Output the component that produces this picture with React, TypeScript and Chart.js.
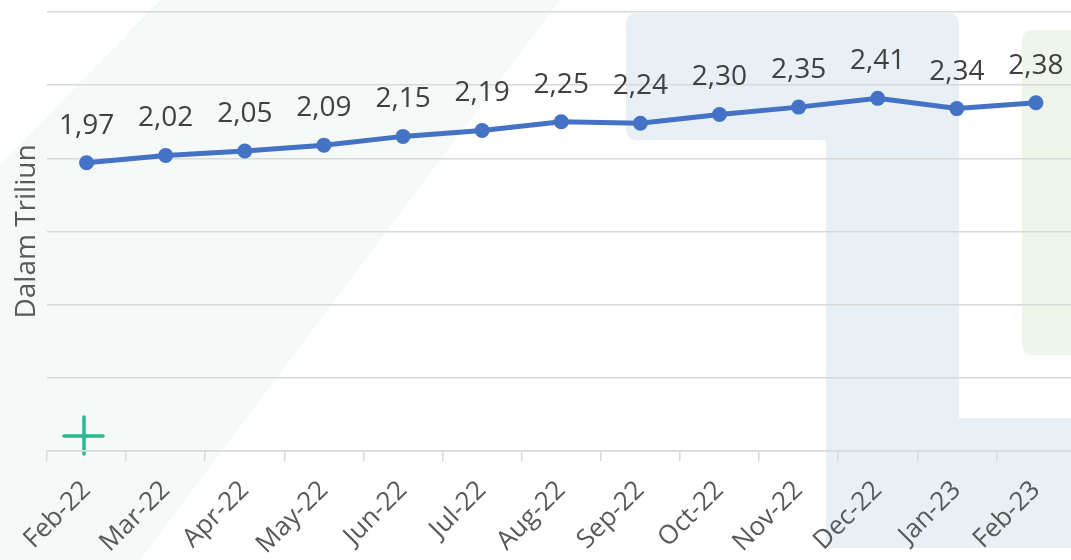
import React, { useEffect, useRef } from "react";
import { Chart, registerables } from "chart.js";

Chart.register(...registerables);

const categories = [
  "Feb-22", "Mar-22", "Apr-22", "May-22", "Jun-22", "Jul-22", "Aug-22",
  "Sep-22", "Oct-22", "Nov-22", "Dec-22", "Jan-23", "Feb-23",
];
const values = [1.97, 2.02, 2.05, 2.09, 2.15, 2.19, 2.25, 2.24, 2.3, 2.35, 2.41, 2.34, 2.38];
const yMin = 0;
const yMax = 3;
const yStep = 0.5;
const yTitle = "Dalam Triliun";

const FONT = "'Open Sans', 'Noto Sans', sans-serif";

const watermark = {
  id: "watermark",
  beforeDraw(chart: any) {
    const ctx = chart.ctx;
    ctx.save();
    // faint mint diagonal band
    ctx.fillStyle = "rgba(226, 242, 236, 0.35)";
    ctx.beginPath();
    ctx.moveTo(160, 0);
    ctx.lineTo(560, 0);
    ctx.lineTo(140, 560);
    ctx.lineTo(0, 560);
    ctx.lineTo(0, 165);
    ctx.closePath();
    ctx.fill();
    // light blue shape
    ctx.fillStyle = "#e8f0f6";
    const rr = (x: number, y: number, w: number, h: number, r: number) => {
      ctx.beginPath();
      ctx.roundRect(x, y, w, h, r);
      ctx.fill();
    };
    rr(626, 13, 333, 127, 10);
    rr(826, 120, 133, 428, 6);
    rr(940, 418, 150, 130, 6);
    // light green shape
    ctx.fillStyle = "#eef5eb";
    rr(1022, 30, 80, 325, 10);
    // green plus
    ctx.strokeStyle = "#2bb892";
    ctx.lineWidth = 3.5;
    ctx.lineCap = "round";
    ctx.beginPath();
    ctx.moveTo(64, 436);
    ctx.lineTo(103, 436);
    ctx.moveTo(84, 417);
    ctx.lineTo(84, 454);
    ctx.stroke();
    ctx.restore();
  },
};

const dataLabels = {
  id: "dataLabels",
  afterDatasetsDraw(chart: any) {
    const ctx = chart.ctx;
    const meta = chart.getDatasetMeta(0);
    ctx.save();
    ctx.font = `28px ${FONT}`;
    ctx.fillStyle = "#404040";
    ctx.textAlign = "center";
    ctx.textBaseline = "middle";
    meta.data.forEach((pt: any, i: number) => {
      const v = chart.data.datasets[0].data[i] as number;
      ctx.fillText(v.toFixed(2).replace(".", ","), pt.x, pt.y - 37);
    });
    ctx.restore();
  },
};

export default function App() {
  const ref = useRef<HTMLCanvasElement>(null);
  useEffect(() => {
    if (!ref.current) return;
    const chart = new Chart(ref.current, {
      type: "line",
      data: {
        labels: categories,
        datasets: [
          {
            data: values,
            borderColor: "#4472c4",
            backgroundColor: "#4472c4",
            borderWidth: 5,
            pointRadius: 7.5,
            pointBackgroundColor: "#4472c4",
            pointBorderWidth: 0,
            tension: 0,
          },
        ],
      },
      options: {
        responsive: false,
        animation: false,
        layout: { padding: { top: 12, left: 0, right: 0, bottom: 0 } },
        plugins: {
          legend: { display: false },
          tooltip: { enabled: false },
        },
        scales: {
          x: {
            type: "category",
            offset: true,
            grid: {
              offset: true,
              drawOnChartArea: false,
              drawTicks: true,
              tickLength: 10,
              color: "#d9d9d9",
              lineWidth: 1.5,
            },
            border: { display: true, color: "#d9d9d9", width: 1.5 },
            ticks: {
              minRotation: 45,
              maxRotation: 45,
              autoSkip: false,
              color: "#595959",
              font: { family: FONT, size: 26 },
              padding: 14,
            },
            afterFit(scale: any) {
              scale.height = 109;
            },
          },
          y: {
            min: yMin,
            max: yMax,
            ticks: { display: false, stepSize: yStep },
            grid: { color: "#d9d9d9", lineWidth: 1.5, drawTicks: false },
            border: { display: false },
            title: {
              display: true,
              text: yTitle,
              color: "#595959",
              font: { family: FONT, size: 28 },
              padding: { top: 10, bottom: 0 },
            },
            afterFit(scale: any) {
              scale.width = 47;
            },
          },
        },
      },
      plugins: [watermark, dataLabels],
    });
    return () => chart.destroy();
  }, []);
  return (
    <div
      style={{
        position: "fixed",
        left: 0,
        top: 0,
        width: 1071,
        height: 560,
        overflow: "hidden",
        background: "#ffffff",
      }}
    >
      <canvas ref={ref} width={1083} height={560} style={{ display: "block" }} />
    </div>
  );
}
